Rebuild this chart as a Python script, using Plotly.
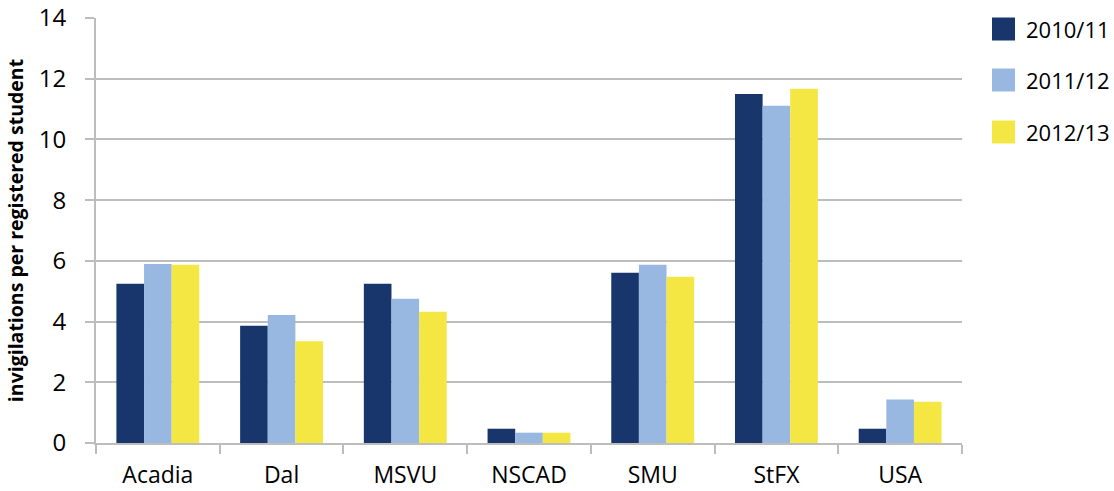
import plotly.graph_objects as go

categories = ["Acadia", "Dal", "MSVU", "NSCAD", "SMU", "StFX", "USA"]
series_names = ["2010/11", "2011/12", "2012/13"]
v_2010_11 = [5.25, 3.86, 5.25, 0.47, 5.61, 11.50, 0.47]
v_2011_12 = [5.90, 4.22, 4.75, 0.34, 5.87, 11.11, 1.43]
v_2012_13 = [5.87, 3.35, 4.32, 0.34, 5.48, 11.67, 1.36]
y_ticks = [0, 2, 4, 6, 8, 10, 12, 14]
y_title = "invigilations per registered student"

colors = ["#18366B", "#98B8E1", "#F5E743"]
series_values = [v_2010_11, v_2011_12, v_2012_13]

FONT = "Open Sans"
W, H = 1114, 491
ML, MR, MT, MB = 96, 152, 18, 48

fig = go.Figure()
for name, vals, col in zip(series_names, series_values, colors):
    fig.add_trace(go.Bar(x=categories, y=vals, name=name, marker=dict(color=col, line=dict(width=0)),
                         showlegend=False))

# manual legend (large square swatches)
pw = W - ML - MR
ph = H - MT - MB
sq = 23
centers_px = [29, 80, 132]
for name, col, cy in zip(series_names, colors, centers_px):
    x0 = (992 - ML) / pw
    x1 = (992 + sq - ML) / pw
    y0 = (H - MB - cy - sq / 2) / ph
    y1 = (H - MB - cy + sq / 2) / ph
    fig.add_shape(type="rect", xref="paper", yref="paper", x0=x0, x1=x1, y0=y0, y1=y1,
                  fillcolor=col, line=dict(width=0))
    fig.add_annotation(xref="paper", yref="paper", x=(1024 - ML) / pw, y=(H - MB - cy) / ph,
                       text=name, showarrow=False, xanchor="left", yanchor="middle",
                       font=dict(family=FONT, size=22, color="#000000"))

fig.update_layout(
    width=W, height=H,
    margin=dict(l=ML, r=MR, t=MT, b=MB, pad=0, autoexpand=False),
    paper_bgcolor="white", plot_bgcolor="white",
    barmode="group", bargap=0.33, bargroupgap=0,
    font=dict(family=FONT, color="#000000"),
)
fig.update_xaxes(
    automargin=False,
    showline=True, linecolor="#BDBDBD", linewidth=2,
    ticks="outside", tickson="boundaries", ticklen=9, tickcolor="#BDBDBD", tickwidth=2,
    tickfont=dict(family=FONT, size=23, color="#000000"),
    ticklabelstandoff=10,
    showgrid=False,
)
fig.update_yaxes(
    automargin=False,
    range=[0, 14], tickvals=y_ticks, ticktext=[str(t) for t in y_ticks],
    showline=True, linecolor="#BDBDBD", linewidth=2,
    ticks="outside", ticklen=9, tickcolor="#BDBDBD", tickwidth=2,
    showgrid=True, gridcolor="#BDBDBD", gridwidth=2,
    zeroline=False,
    tickfont=dict(family=FONT, size=24, color="#000000"),
    ticklabelstandoff=14,
    title=dict(text="<b>" + y_title + "</b>", font=dict(family=FONT, size=19.5, color="#000000"), standoff=10),
)

fig.write_html("out.html")
